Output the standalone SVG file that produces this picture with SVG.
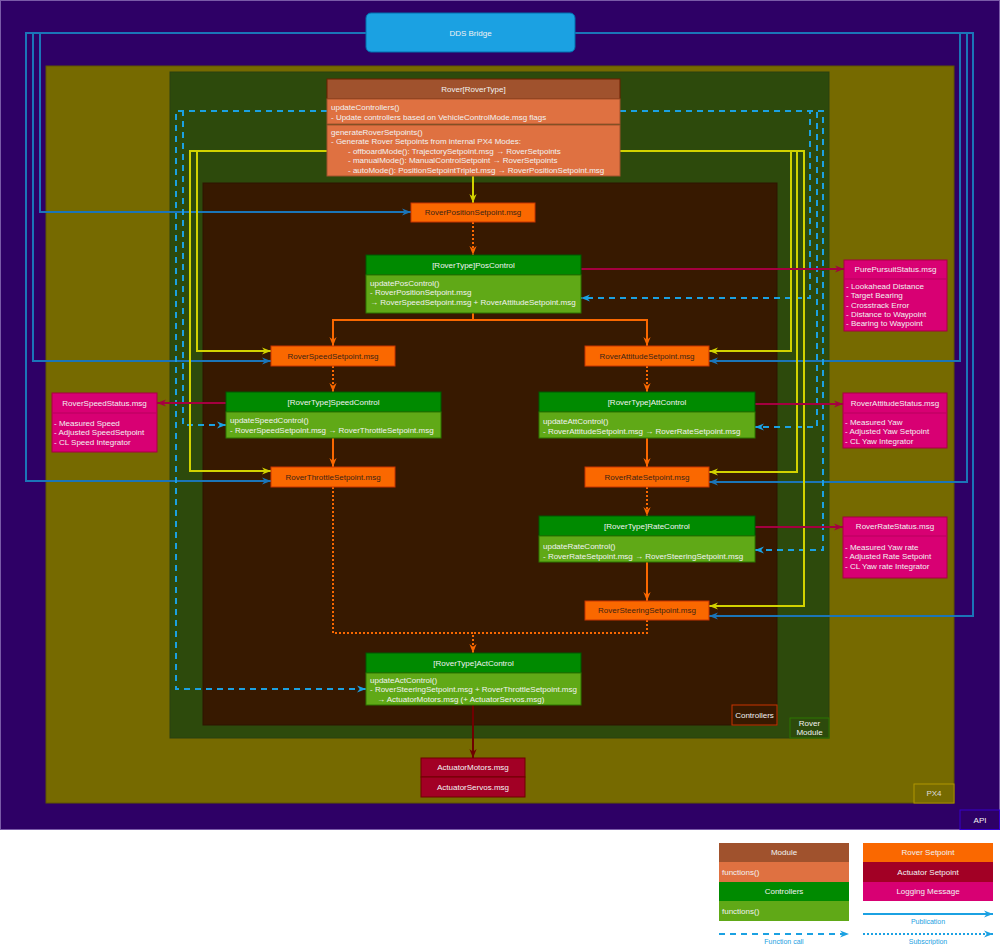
<svg xmlns="http://www.w3.org/2000/svg" width="1000" height="945" viewBox="0 0 1000 945">
<style>
text{font-family:"Liberation Sans",Arial,sans-serif;font-size:8px;fill:#f2f2f2}
.c{text-anchor:middle}
.dk{fill:#3c2415}
.lg{fill:#1ba1e2;font-size:7px}
.ln{fill:none;stroke-width:2}
.yel{stroke:#d2d200}
.dds{stroke:#1b75b8}
.fn{stroke:#1ba1e2;stroke-dasharray:6 5}
.org{stroke:#fa6800}
.dot{stroke-dasharray:2 2}
.log{stroke:#a50040}
.act{stroke:#6f0000}
.sp{fill:#fa6800;stroke:#c73500}
.hdr{fill:#008a00;stroke:#005700}
.bdy{fill:#60a917;stroke:#2d7600}
.pk{fill:#d80073;stroke:#a50040}
.ar{fill:#a20025;stroke:#6f0000}
</style>
<defs>
<marker id="mY" markerUnits="userSpaceOnUse" viewBox="0 0 10 10" refX="10" refY="5" markerWidth="9" markerHeight="9" orient="auto"><path d="M0,1 L10,5 L0,9 L3,5 Z" fill="#d2d200"/></marker>
<marker id="mB" markerUnits="userSpaceOnUse" viewBox="0 0 10 10" refX="10" refY="5" markerWidth="9" markerHeight="9" orient="auto"><path d="M0,1 L10,5 L0,9 L3,5 Z" fill="#1b75b8"/></marker>
<marker id="mF" markerUnits="userSpaceOnUse" viewBox="0 0 10 10" refX="10" refY="5" markerWidth="9" markerHeight="9" orient="auto"><path d="M0,1 L10,5 L0,9 L3,5 Z" fill="#1ba1e2"/></marker>
<marker id="mO" markerUnits="userSpaceOnUse" viewBox="0 0 10 10" refX="10" refY="5" markerWidth="9" markerHeight="9" orient="auto"><path d="M0,1 L10,5 L0,9 L3,5 Z" fill="#fa6800"/></marker>
<marker id="mL" markerUnits="userSpaceOnUse" viewBox="0 0 10 10" refX="10" refY="5" markerWidth="9" markerHeight="9" orient="auto"><path d="M0,1 L10,5 L0,9 L3,5 Z" fill="#a50040"/></marker>
<marker id="mA" markerUnits="userSpaceOnUse" viewBox="0 0 10 10" refX="10" refY="5" markerWidth="9" markerHeight="9" orient="auto"><path d="M0,1 L10,5 L0,9 L3,5 Z" fill="#6f0000"/></marker>
</defs>
<rect width="1000" height="945" fill="#ffffff"/>
<g id="regions">
<rect x="0.5" y="0.5" width="999" height="829" fill="#2e0066" stroke="#7a5aa8"/>
<rect x="46" y="66" width="908" height="737" fill="#766a00" stroke="#5e5400"/>
<rect x="170" y="72" width="659" height="666" fill="#2d4a0c" stroke="#2a4010"/>
<rect x="203" y="183" width="574" height="542" fill="#371900" stroke="#2e1500"/>
<rect x="732" y="705" width="45" height="20" fill="none" stroke="#c73500"/>
<text class="c" x="754.5" y="718">Controllers</text>
<rect x="790" y="718" width="39" height="20" fill="none" stroke="#2d7600"/>
<text class="c" x="809.5" y="726">Rover</text>
<text class="c" x="809.5" y="735">Module</text>
<rect x="914" y="784" width="40" height="19" fill="none" stroke="#b09500"/>
<text class="c" x="934" y="796" style="fill:#dddddd">PX4</text>
<rect x="960" y="810" width="39.5" height="19.5" fill="none" stroke="#3700cc"/>
<text class="c" x="980" y="823">API</text>
</g>
<g id="connectors">
<path class="ln dds" d="M366,33 H40 V212 H411" marker-end="url(#mB)"/>
<path class="ln dds" d="M366,33 H33 V361 H271" marker-end="url(#mB)"/>
<path class="ln dds" d="M366,33 H26 V481 H271" marker-end="url(#mB)"/>
<path class="ln dds" d="M575,33 H960 V361 H709" marker-end="url(#mB)"/>
<path class="ln dds" d="M575,33 H967 V482 H709" marker-end="url(#mB)"/>
<path class="ln dds" d="M575,33 H973 V616 H709" marker-end="url(#mB)"/>
<path class="ln fn" d="M327,111 H183 V425 H226" marker-end="url(#mF)"/>
<path class="ln fn" d="M327,111 H176 V689 H366" marker-end="url(#mF)"/>
<path class="ln fn" d="M620,111 H810 V298 H581" marker-end="url(#mF)"/>
<path class="ln fn" d="M620,111 H817 V427 H755" marker-end="url(#mF)"/>
<path class="ln fn" d="M620,111 H823 V550 H755" marker-end="url(#mF)"/>
<path class="ln yel" d="M327,151 H197 V351 H271" marker-end="url(#mY)"/>
<path class="ln yel" d="M327,151 H190 V471 H271" marker-end="url(#mY)"/>
<path class="ln yel" d="M620,151 H791 V351 H709" marker-end="url(#mY)"/>
<path class="ln yel" d="M620,151 H797 V472 H709" marker-end="url(#mY)"/>
<path class="ln yel" d="M620,151 H804 V606 H709" marker-end="url(#mY)"/>
<path class="ln yel" d="M473,176 V203" marker-end="url(#mY)"/>
<path class="ln org dot" d="M473,222 V255" marker-end="url(#mO)"/>
<path class="ln org" d="M473,313 V320 H333 V346" marker-end="url(#mO)"/>
<path class="ln org" d="M473,320 H647 V346" marker-end="url(#mO)"/>
<path class="ln org dot" d="M333,366 V392" marker-end="url(#mO)"/>
<path class="ln org dot" d="M647,366 V392" marker-end="url(#mO)"/>
<path class="ln org" d="M333,438 V467" marker-end="url(#mO)"/>
<path class="ln org" d="M647,438 V467" marker-end="url(#mO)"/>
<path class="ln org dot" d="M647,487 V516" marker-end="url(#mO)"/>
<path class="ln org" d="M647,562 V601" marker-end="url(#mO)"/>
<path class="ln org dot" d="M333,487 V633 H473 V653" marker-end="url(#mO)"/>
<path class="ln org dot" d="M647,620 V633 H473"/>
<path class="ln log" d="M581,269 H844" marker-end="url(#mL)"/>
<path class="ln log" d="M226,403 H157" marker-end="url(#mL)"/>
<path class="ln log" d="M755,404 H843" marker-end="url(#mL)"/>
<path class="ln log" d="M755,527 H843" marker-end="url(#mL)"/>
<path class="ln act" d="M473,705 V758" marker-end="url(#mA)"/>
</g>
<g id="dds-bridge">
<rect x="366" y="13" width="209" height="39" rx="5" fill="#1ba1e2" stroke="#006eaf"/>
<text class="c" x="470.5" y="36">DDS Bridge</text>
</g>
<g id="rover">
<rect x="327" y="79" width="293" height="20" fill="#a0522d" stroke="#6d1f00"/>
<rect x="327" y="99" width="293" height="25" fill="#df7141" stroke="#a0522d"/>
<rect x="327" y="125" width="293" height="51" fill="#df7141" stroke="#a0522d"/>
<text class="c" x="473.5" y="92">Rover[RoverType]</text>
<text x="331" y="110">updateControllers()</text>
<text x="331" y="120">- Update controllers based on VehicleControlMode.msg flags</text>
<text x="331" y="135">generateRoverSetpoints()</text>
<text x="331" y="144">- Generate Rover Setpoints from internal PX4 Modes:</text>
<text x="348" y="154">- offboardMode(): TrajectorySetpoint.msg → RoverSetpoints</text>
<text x="348" y="163">- manualMode(): ManualControlSetpoint → RoverSetpoints</text>
<text x="348" y="173">- autoMode(): PositionSetpointTriplet.msg → RoverPositionSetpoint.msg</text>
</g>
<g id="position-setpoint"><rect class="sp" x="411" y="203" width="124" height="19"/><text class="c dk" x="473" y="215">RoverPositionSetpoint.msg</text></g>
<g id="pos-control">
<rect class="hdr" x="366" y="255" width="215" height="20"/>
<rect class="bdy" x="366" y="275" width="215" height="38"/>
<text class="c" x="473.5" y="268">[RoverType]PosControl</text>
<text x="370" y="286">updatePosControl()</text>
<text x="370" y="295">- RoverPositionSetpoint.msg</text>
<text x="370" y="305">→ RoverSpeedSetpoint.msg + RoverAttitudeSetpoint.msg</text>
</g>
<g id="speed-setpoint"><rect class="sp" x="271" y="346" width="124" height="20"/><text class="c dk" x="333" y="359">RoverSpeedSetpoint.msg</text></g>
<g id="attitude-setpoint"><rect class="sp" x="585" y="346" width="124" height="20"/><text class="c dk" x="647" y="359">RoverAttitudeSetpoint.msg</text></g>
<g id="speed-control">
<rect class="hdr" x="226" y="392" width="215" height="20"/>
<rect class="bdy" x="226" y="412" width="215" height="26"/>
<text class="c" x="333.5" y="405">[RoverType]SpeedControl</text>
<text x="230" y="423">updateSpeedControl()</text>
<text x="230" y="433">- RoverSpeedSetpoint.msg → RoverThrottleSetpoint.msg</text>
</g>
<g id="att-control">
<rect class="hdr" x="539" y="392" width="216" height="20"/>
<rect class="bdy" x="539" y="412" width="216" height="26"/>
<text class="c" x="647" y="405">[RoverType]AttControl</text>
<text x="543" y="424">updateAttControl()</text>
<text x="543" y="434">- RoverAttitudeSetpoint.msg → RoverRateSetpoint.msg</text>
</g>
<g id="throttle-setpoint"><rect class="sp" x="271" y="467" width="124" height="20"/><text class="c dk" x="333" y="480">RoverThrottleSetpoint.msg</text></g>
<g id="rate-setpoint"><rect class="sp" x="585" y="467" width="124" height="20"/><text class="c dk" x="647" y="480">RoverRateSetpoint.msg</text></g>
<g id="rate-control">
<rect class="hdr" x="539" y="516" width="216" height="20"/>
<rect class="bdy" x="539" y="536" width="216" height="26"/>
<text class="c" x="647" y="529">[RoverType]RateControl</text>
<text x="543" y="549">updateRateControl()</text>
<text x="543" y="559">- RoverRateSetpoint.msg → RoverSteeringSetpoint.msg</text>
</g>
<g id="steering-setpoint"><rect class="sp" x="585" y="601" width="124" height="19"/><text class="c dk" x="647" y="613">RoverSteeringSetpoint.msg</text></g>
<g id="act-control">
<rect class="hdr" x="366" y="653" width="215" height="20"/>
<rect class="bdy" x="366" y="673" width="215" height="32"/>
<text class="c" x="473.5" y="666">[RoverType]ActControl</text>
<text x="370" y="683">updateActControl()</text>
<text x="370" y="692">- RoverSteeringSetpoint.msg + RoverThrottleSetpoint.msg</text>
<text x="377" y="702">→ ActuatorMotors.msg (+ ActuatorServos.msg)</text>
</g>
<g id="actuators">
<rect class="ar" x="421" y="758" width="104" height="19"/>
<rect class="ar" x="421" y="777" width="104" height="20"/>
<text class="c" x="473" y="770">ActuatorMotors.msg</text>
<text class="c" x="473" y="790">ActuatorServos.msg</text>
</g>
<g id="pure-pursuit-status">
<rect class="pk" x="844" y="260" width="103" height="71"/>
<line x1="844" y1="279" x2="947" y2="279" stroke="#b8005f"/>
<text class="c" x="895.5" y="272">PurePursuitStatus.msg</text>
<text x="846" y="289">- Lookahead Distance</text>
<text x="846" y="298">- Target Bearing</text>
<text x="846" y="308">- Crosstrack Error</text>
<text x="846" y="317">- Distance to Waypoint</text>
<text x="846" y="326">- Bearing to Waypoint</text>
</g>
<g id="speed-status">
<rect class="pk" x="52" y="393" width="105" height="59"/>
<line x1="52" y1="413" x2="157" y2="413" stroke="#b8005f"/>
<text class="c" x="104.5" y="406">RoverSpeedStatus.msg</text>
<text x="54" y="426">- Measured Speed</text>
<text x="54" y="435">- Adjusted SpeedSetpoint</text>
<text x="54" y="445">- CL Speed Integrator</text>
</g>
<g id="attitude-status">
<rect class="pk" x="843" y="393" width="104" height="55"/>
<line x1="843" y1="413" x2="947" y2="413" stroke="#b8005f"/>
<text class="c" x="895" y="406">RoverAttitudeStatus.msg</text>
<text x="845" y="425">- Measured Yaw</text>
<text x="845" y="434">- Adjusted Yaw Setpoint</text>
<text x="845" y="444">- CL Yaw Integrator</text>
</g>
<g id="rate-status">
<rect class="pk" x="843" y="517" width="104" height="61"/>
<line x1="843" y1="536" x2="947" y2="536" stroke="#b8005f"/>
<text class="c" x="895" y="529">RoverRateStatus.msg</text>
<text x="845" y="550">- Measured Yaw rate</text>
<text x="845" y="559">- Adjusted Rate Setpoint</text>
<text x="845" y="569">- CL Yaw rate Integrator</text>
</g>
<g id="legend">
<rect x="719" y="843" width="130" height="19" fill="#a0522d"/>
<rect x="719" y="862" width="130" height="20" fill="#df7141"/>
<rect x="719" y="882" width="130" height="19" fill="#008a00"/>
<rect x="719" y="901" width="130" height="20" fill="#60a917"/>
<text class="c" x="784" y="855">Module</text>
<text x="722" y="875">functions()</text>
<text class="c" x="784" y="894">Controllers</text>
<text x="722" y="914">functions()</text>
<rect x="863" y="843" width="130" height="19" fill="#fa6800"/>
<rect x="863" y="862" width="130" height="20" fill="#a20025"/>
<rect x="863" y="882" width="130" height="19" fill="#d80073"/>
<text class="c" x="928" y="855">Rover Setpoint</text>
<text class="c" x="928" y="875">Actuator Setpoint</text>
<text class="c" x="928" y="894">Logging Message</text>
<path class="ln" d="M863,914 H993" stroke="#1ba1e2" marker-end="url(#mF)"/>
<text class="c lg" x="928" y="924">Publication</text>
<path class="ln fn" d="M719,934 H849" marker-end="url(#mF)"/>
<text class="c lg" x="784" y="944">Function call</text>
<path class="ln" d="M863,934 H993" stroke="#1ba1e2" stroke-dasharray="2 2" marker-end="url(#mF)"/>
<text class="c lg" x="928" y="944">Subscription</text>
</g>
</svg>
